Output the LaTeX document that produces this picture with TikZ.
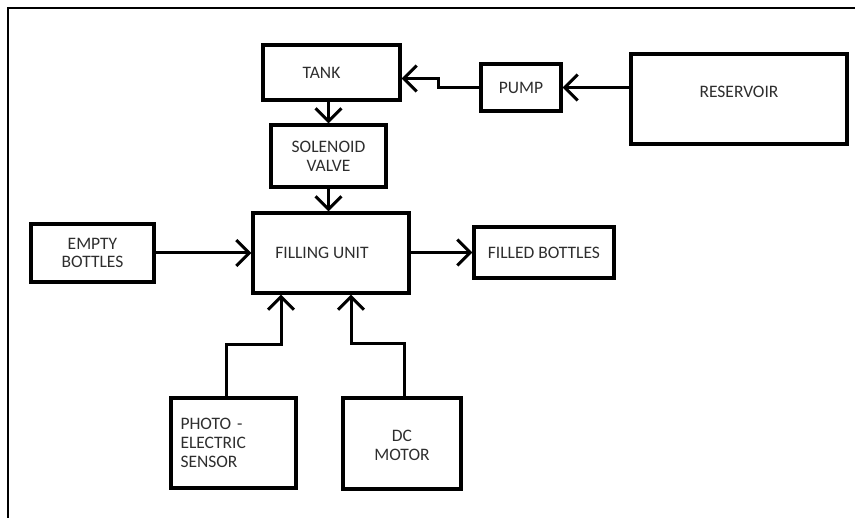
\documentclass[tikz,border=0pt]{standalone}
\usepackage{fontspec}
\setmainfont{Carlito}
\usetikzlibrary{arrows.meta}
\begin{document}
\begin{tikzpicture}[x=1pt, y=-1pt,
    blk/.style={draw, line width=3.2pt, inner sep=0pt, text=black!82,
        font=\fontsize{17.5}{18.8}\selectfont, align=center},
    arr/.style={line width=3pt, -{Straight Barb[length=13pt, width=26pt, line width=3pt]}}]
                \useasboundingbox (0,0) rectangle (855,518);
                % Frame
                \draw[line width=2pt] (855,8) -- (8,8) -- (8,518);

                % Blocks
                \node[blk, minimum width=137pt, minimum height=55pt] (tank) at (331.5,72.5) {TANK\hspace{20pt}};
                \node[blk, minimum width=80pt, minimum height=47pt] (pump) at (521,87.5) {PUMP};
                \node[blk, minimum width=216pt, minimum height=90pt] (res) at (739,99) {RESERVOIR\\[-4pt]};
                \node[blk, minimum width=115pt, minimum height=62pt] (valve) at (328.5,156) {SOLENOID\\VALVE};
                \node[blk, minimum width=156pt, minimum height=80pt] (fill) at (331,253) {FILLING UNIT\hspace{18pt}};
                \node[blk, minimum width=123pt, minimum height=58pt] (empty) at (92.5,253) {EMPTY\\BOTTLES};
                \node[blk, minimum width=140pt, minimum height=51pt] (filled) at (544,252.5) {FILLED BOTTLES};
                \node[blk, minimum width=125pt, minimum height=90pt, align=left, text width=106pt] (photo) at (233.5,443) {PHOTO -\\ELECTRIC\\SENSOR\\[2pt]};
                \node[blk, minimum width=118pt, minimum height=91pt] (dc) at (402,443.5) {\\[-4pt]DC\\MOTOR};

                % Flow
                \draw[arr] (res.west |- pump.east) -- (pump.east);
                \draw[arr] (pump.west) -- ++(-41,0) |- ([yshift=-6pt]tank.east);
                \draw[arr] (valve.north |- tank.south) -- (valve.north);
                \draw[arr] (valve.south) -- (valve.south |- fill.north);
                \draw[arr] (empty.east) -- (empty.east -| fill.west);
                \draw[arr] (fill.east |- filled.west) -- (filled.west);

                % Sensor and motor
                \draw[arr] ([xshift=-7pt]photo.north) -- ++(0,-52) -| ([xshift=-50pt]fill.south);
                \draw[arr] ([xshift=2pt]dc.north) -- ++(0,-53) -| ([xshift=20pt]fill.south);
            \end{tikzpicture}
\end{document}
